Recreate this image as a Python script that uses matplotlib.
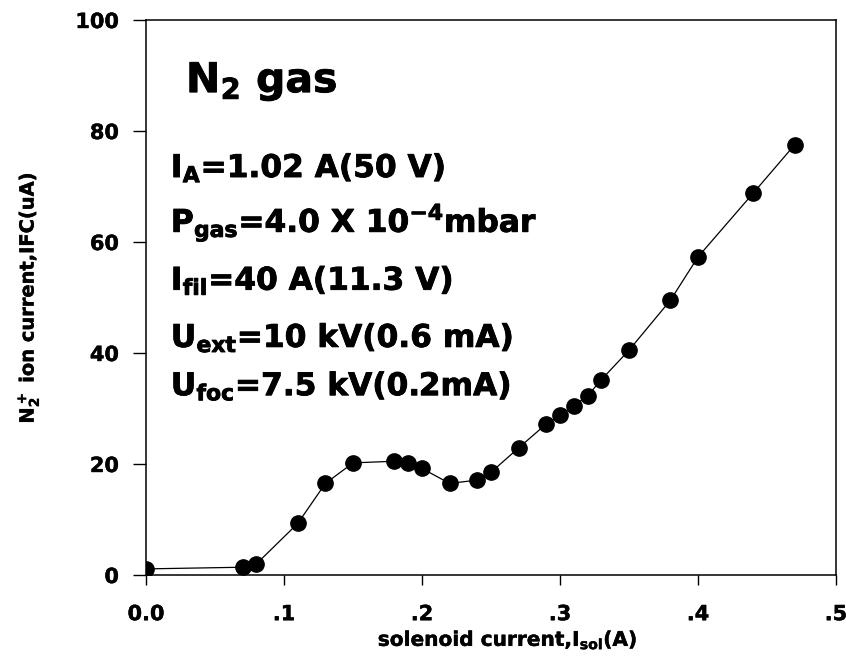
import matplotlib
matplotlib.use("Agg")
import matplotlib.pyplot as plt
import matplotlib.patheffects as pe

plt.rcParams['font.family'] = ['DejaVu Sans']
plt.rcParams['font.weight'] = 'bold'
plt.rcParams['mathtext.fontset'] = 'custom'
plt.rcParams['mathtext.rm'] = 'DejaVu Sans:bold'
plt.rcParams['mathtext.it'] = 'DejaVu Sans:bold'
plt.rcParams['mathtext.bf'] = 'DejaVu Sans:bold'
plt.rcParams['mathtext.default'] = 'rm'

# solenoid current (A) vs N2+ ion current on the Faraday cup (uA)
sol_current = [0.0, 0.07, 0.08, 0.11, 0.13, 0.15, 0.18, 0.19, 0.20, 0.22,
               0.24, 0.25, 0.27, 0.29, 0.30, 0.31, 0.32, 0.33, 0.35, 0.38,
               0.40, 0.44, 0.47]
ion_current = [1.1, 1.4, 2.0, 9.3, 16.5, 20.2, 20.5, 20.1, 19.2, 16.5,
               17.1, 18.5, 22.9, 27.2, 28.8, 30.5, 32.3, 35.2, 40.5, 49.5,
               57.3, 68.8, 77.5]

xticks = [0.0, 0.1, 0.2, 0.3, 0.4, 0.5]
xticklabels = ['0.0', '.1', '.2', '.3', '.4', '.5']
yticks = [0, 20, 40, 60, 80, 100]

conditions = [
    r'I$_A$=1.02 A(50 V)',
    r'P$_{gas}$=4.0 X 10$^{-4}$mbar',
    r'I$_{fil}$=40 A(11.3 V)',
    r'U$_{ext}$=10 kV(0.6 mA)',
    r'U$_{foc}$=7.5 kV(0.2mA)',
]
cond_y = [0.717, 0.618, 0.514, 0.411, 0.324]

# a thin outline makes the lettering a bit heavier
heavy = [pe.withStroke(linewidth=0.6, foreground='black')]
medium = [pe.withStroke(linewidth=0.3, foreground='black')]

fig = plt.figure(figsize=(8.46, 6.61), dpi=100)
ax = fig.add_axes([146 / 846, 1 - 575 / 661, (836 - 146) / 846, (575 - 20) / 661])

ax.plot(sol_current, ion_current, '-o', color='black', lw=0.9,
        markersize=11, markerfacecolor='black', markeredgecolor='black')

ax.set_xlim(0, 0.5)
ax.set_ylim(0, 100)
ax.set_xticks(xticks)
ax.set_xticklabels(xticklabels)
ax.set_yticks(yticks)

ax.tick_params(axis='x', direction='out', length=7, width=1, labelsize=15, pad=14)
ax.tick_params(axis='y', direction='out', length=9.5, width=1, labelsize=15, pad=10)
for lab in ax.get_xticklabels() + ax.get_yticklabels():
    lab.set_fontweight('bold')
    lab.set_path_effects(medium)
for sp in ax.spines.values():
    sp.set_linewidth(1.1)

ax.set_xlabel(r'solenoid current,I$_{sol}$(A)', fontsize=14.5, fontweight='bold',
              path_effects=medium)
ax.xaxis.set_label_coords(0.524, -0.097)
ax.set_ylabel(r'N$_2^+$ ion current,IFC(uA)', fontsize=14, fontweight='bold',
              path_effects=medium)
ax.yaxis.set_label_coords(-0.151, 0.5)

ax.text(0.058, 0.87, r'N$_2$ gas', transform=ax.transAxes, fontsize=29.5,
        fontweight='bold', va='baseline', ha='left', path_effects=heavy)
for txt, yy in zip(conditions, cond_y):
    ax.text(0.036, yy, txt, transform=ax.transAxes, fontsize=22.5,
            fontweight='bold', va='baseline', ha='left', path_effects=heavy)

fig.savefig('out.png', dpi=100)
